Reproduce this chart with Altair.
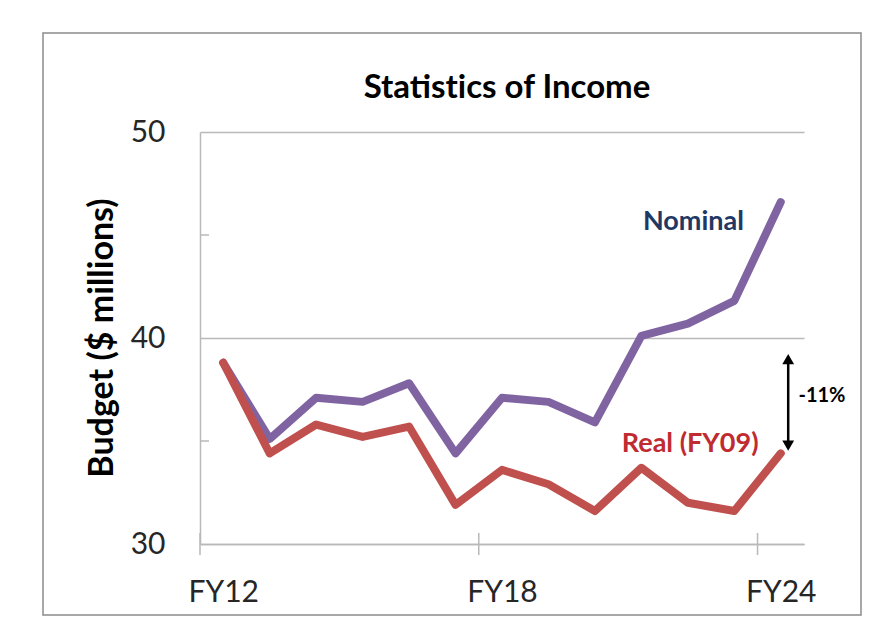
import altair as alt
import pandas as pd

# ---- data ----
years = ["FY12", "FY13", "FY14", "FY15", "FY16", "FY17", "FY18",
         "FY19", "FY20", "FY21", "FY22", "FY23", "FY24"]
nominal = [38.8, 35.1, 37.1, 36.9, 37.8, 34.4, 37.1, 36.9, 35.9, 40.1, 40.7, 41.8, 46.6]
real = [38.8, 34.4, 35.8, 35.2, 35.7, 31.9, 33.6, 32.9, 31.6, 33.7, 32.0, 31.6, 34.4]
x_tick_labels = ["FY12", "FY18", "FY24"]
y_ticks = [30, 40, 50]
y_minor = [35, 45]

# zero-width non-joiner keeps the font from drawing a "ti" ligature
TITLE = "Statist\u200cics of Income"
Y_TITLE = "Budget ($ millions)"
FONT = "Lato"

idx = list(range(len(years)))
df = pd.DataFrame({"i": idx, "year": years, "Nominal": nominal, "Real": real})
label_idx = [years.index(v) for v in x_tick_labels]
boundaries = pd.DataFrame({"b": [v - 0.5 for v in label_idx]})
minor_df = pd.DataFrame({"m": y_minor})

W, H = 604, 412
GRAY = "#B9B9B9"

xscale = alt.Scale(domain=[-0.5, len(years) - 0.5], nice=False, zero=False)
yscale = alt.Scale(domain=[30, 50], nice=False, zero=False)

label_expr = "{" + ",".join(f"'{i}':'{y}'" for i, y in zip(idx, years)) + "}[datum.value]"

x_axis = alt.Axis(values=label_idx, labelExpr=label_expr, title=None, grid=False,
                  ticks=False, tickSize=0, domainColor=GRAY, domainWidth=1.5,
                  labelFont=FONT, labelFontSize=30, labelColor="#262626",
                  labelPadding=33)
y_axis = alt.Axis(values=y_ticks, title=None, grid=True, gridColor=GRAY, gridWidth=1.5,
                  ticks=False, tickSize=0, domainColor=GRAY, domainWidth=1.5,
                  labelFont=FONT, labelFontSize=30, labelColor="#262626",
                  labelPadding=35)

base = alt.Chart(df)

nom_line = base.mark_line(color="#8064A2", strokeWidth=8, strokeCap="round",
                          strokeJoin="round").encode(
    x=alt.X("i:Q", scale=xscale, axis=x_axis),
    y=alt.Y("Nominal:Q", scale=yscale, axis=y_axis),
)
real_line = base.mark_line(color="#C0504D", strokeWidth=8, strokeCap="round",
                           strokeJoin="round").encode(
    x=alt.X("i:Q", scale=xscale),
    y=alt.Y("Real:Q", scale=yscale),
)

x_ticks = alt.Chart(boundaries).mark_rule(color=GRAY, strokeWidth=1.5).encode(
    x=alt.X("b:Q", scale=xscale),
    y=alt.value(H - 11), y2=alt.value(H + 11),
)
y_minor_ticks = alt.Chart(minor_df).mark_rule(color=GRAY, strokeWidth=1.5).encode(
    y=alt.Y("m:Q", scale=yscale),
    x=alt.value(0), x2=alt.value(9),
)

# frame around chart area
frame = alt.Chart(pd.DataFrame({"k": [0]})).mark_rect(
    fill="transparent", stroke="#8C8C8C", strokeWidth=1.5).encode(
    x=alt.value(-157), x2=alt.value(661), y=alt.value(-99), y2=alt.value(483),
)

title = alt.Chart(pd.DataFrame({"t": [TITLE]})).mark_text(
    font=FONT, fontSize=33, fontWeight="bold", color="#000000",
    align="center", baseline="alphabetic").encode(
    text="t:N", x=alt.value(307), y=alt.value(-34),
)
ytitle = alt.Chart(pd.DataFrame({"t": [Y_TITLE]})).mark_text(
    font=FONT, fontSize=34, fontWeight="bold", color="#000000",
    align="center", baseline="middle", angle=270).encode(
    text="t:N", x=alt.value(-97), y=alt.value(206),
)

# annotations (data coordinates)
nominal_lbl = alt.Chart(pd.DataFrame({"t": ["Nominal"]})).mark_text(
    font=FONT, fontSize=27, fontWeight="bold", color="#1F3864",
    align="center", baseline="alphabetic").encode(
    text="t:N", x=alt.datum(10.12, scale=xscale), y=alt.datum(45.24, scale=yscale),
)
real_lbl = alt.Chart(pd.DataFrame({"t": ["Real (FY09)"]})).mark_text(
    font=FONT, fontSize=27, fontWeight="bold", color="#BF2B30",
    align="center", baseline="alphabetic").encode(
    text="t:N", x=alt.datum(10.05, scale=xscale), y=alt.datum(34.47, scale=yscale),
)
pct_lbl = alt.Chart(pd.DataFrame({"t": ["-11%"]})).mark_text(
    font=FONT, fontSize=20, fontWeight="bold", color="#000000",
    align="left", baseline="alphabetic").encode(
    text="t:N", x=alt.datum(12.38, scale=xscale), y=alt.datum(36.89, scale=yscale),
)

ARROW_X = 12.16
arrow_df = pd.DataFrame({"x": [ARROW_X], "top": [38.98], "bot": [34.77]})
arrow_shaft = alt.Chart(arrow_df).mark_rule(color="#000000", strokeWidth=2.5).encode(
    x=alt.X("x:Q", scale=xscale), y=alt.Y("top:Q", scale=yscale), y2="bot:Q",
)
head_up = alt.Chart(arrow_df).mark_point(shape="triangle-up", filled=True, size=140,
                                         color="#000000", opacity=1).encode(
    x=alt.X("x:Q", scale=xscale), y=alt.Y("top:Q", scale=yscale),
)
head_down = alt.Chart(arrow_df).mark_point(shape="triangle-down", filled=True, size=140,
                                           color="#000000", opacity=1).encode(
    x=alt.X("x:Q", scale=xscale), y=alt.Y("bot:Q", scale=yscale),
)

chart = alt.layer(
    frame, nom_line, real_line, x_ticks, y_minor_ticks, title, ytitle,
    nominal_lbl, real_lbl, pct_lbl, arrow_shaft, head_up, head_down,
).properties(
    width=W, height=H,
    padding={"left": 192, "top": 124, "right": 80, "bottom": 80},
    autosize=alt.AutoSizeParams(type="none"),
    background="white",
).configure_view(strokeWidth=0)

chart.save("out.html", embed_options={"renderer": "svg", "actions": False})
